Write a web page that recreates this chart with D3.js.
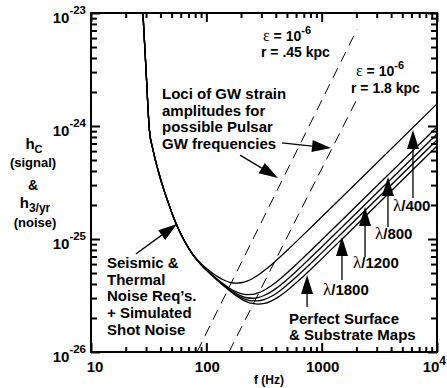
<!DOCTYPE html>
<html>
<head>
<meta charset="utf-8">
<script src="https://cdn.jsdelivr.net/npm/d3@7"></script>
<style>
  body { margin: 0; background: #fff; }
  svg { display: block; font-family: "Liberation Sans", Arial, sans-serif; font-weight: bold; }
</style>
</head>
<body>
<div id="chart"></div>
<script>
// shared frequency grid (Hz) for the noise curves
var freqs = [28.2, 30.0, 32.1, 34.5, 38.1, 42.1, 46.6, 51.4, 56.8, 65.3,
             76.6, 91.6, 112, 125, 140, 160, 180, 200, 225, 250,
             280, 320, 360, 400, 500, 700, 1000, 2000, 10000];
// h_3/yr noise curves, in units of 1e-26
var noise400 = [1000, 313, 92, 61.4, 40.8, 28.8, 21.2, 16.0, 12.5, 9.45,
                7.30, 5.95, 5.03, 4.65, 4.36, 4.14, 4.07, 4.10, 4.23, 4.45,
                4.77, 5.28, 5.83, 6.41, 7.91, 10.99, 15.68, 31.34, 156.7];
var noise800 = [1000, 313, 92, 61.4, 40.8, 28.8, 21.2, 16.0, 12.5, 9.4,
                7.24, 5.84, 4.84, 4.39, 4.01, 3.65, 3.42, 3.28, 3.22, 3.23,
                3.33, 3.54, 3.82, 4.13, 5.01, 6.89, 9.80, 19.58, 97.9];
var noise1200 = [1000, 313, 92, 61.4, 40.8, 28.8, 21.2, 16.0, 12.5, 9.4,
                 7.23, 5.82, 4.80, 4.35, 3.95, 3.57, 3.31, 3.14, 3.02, 2.99,
                 3.03, 3.18, 3.39, 3.64, 4.37, 5.99, 8.51, 16.98, 84.9];
var noise1800 = [1000, 313, 92, 61.4, 40.8, 28.8, 21.2, 16.0, 12.5, 9.4,
                 7.22, 5.81, 4.78, 4.32, 3.91, 3.51, 3.23, 3.04, 2.89, 2.83,
                 2.83, 2.92, 3.08, 3.28, 3.91, 5.32, 7.54, 15.04, 75.2];
var noisePerfect = [1000, 313, 92, 61.4, 40.8, 28.8, 21.2, 16.0, 12.5, 9.4,
                    7.22, 5.80, 4.77, 4.30, 3.88, 3.46, 3.17, 2.95, 2.78, 2.69,
                    2.65, 2.69, 2.81, 2.97, 3.49, 4.71, 6.67, 13.3, 66.5];
var noiseUnit = 1e-26;

// pulsar GW strain loci (eps = 1e-6), end points
var pulsarNearF = [83, 2030];
var pulsarNearH = [1e-26, 7.2e-24];
var pulsarFarF = [157, 2070];
var pulsarFarH = [1e-26, 1.81e-24];

// axis ticks
var xMajor = [10, 100, 1000, 10000];
var xTickLabels = [["10", ""], ["100", ""], ["1000", ""], ["10", "4"]];
var yMajor = [1e-26, 1e-25, 1e-24, 1e-23];
var yTickLabels = [["10", "-26"], ["10", "-25"], ["10", "-24"], ["10", "-23"]];

// annotation arrows [freq, h] tail -> tip
var arrows = [
  { tail: [6190, 2.31e-25], tip: [6190, 9.23e-25] },
  { tail: [3758, 1.28e-25], tip: [3758, 3.54e-25] },
  { tail: [2377, 6.93e-26], tip: [2377, 1.92e-25] },
  { tail: [1500, 4.34e-26], tip: [1500, 1.04e-25] },
  { tail: [747, 2.50e-26], tip: [747, 4.80e-26] },
  { tail: [453, 7.08e-25], tip: [1205, 6.38e-25] },
  { tail: [196, 5.53e-25], tip: [418, 3.47e-25] },
  { tail: [24.5, 7.36e-26], tip: [55.7, 1.36e-25] }
];

var width = 447, height = 388;
var m = {left: 91, right: 437, top: 13, bottom: 352};

var svg = d3.select("#chart").append("svg")
    .attr("width", width)
    .attr("height", height);

var x = d3.scaleLog().domain([10, 1e4]).range([m.left, m.right]);
var y = d3.scaleLog().domain([1e-26, 1e-23]).range([m.bottom, m.top]);

svg.append("clipPath").attr("id", "plot")
  .append("rect")
    .attr("x", m.left).attr("y", m.top)
    .attr("width", m.right - m.left).attr("height", m.bottom - m.top);

var line = d3.line()
    .x(function(d) { return x(d[0]) })
    .y(function(d) { return y(d[1]) })
    .curve(d3.curveMonotoneX);

var curves = [noise400, noise800, noise1200, noise1800, noisePerfect];
svg.append("g").attr("clip-path", "url(#plot)")
  .selectAll("path")
  .data(curves)
  .enter()
  .append("path")
    .attr("d", function(c) { return line(c.map(function(v, i) { return [freqs[i], v * noiseUnit] })) })
    .attr("fill", "none")
    .attr("stroke", "#000")
    .attr("stroke-width", 1.3);

var pulsars = [[pulsarNearF, pulsarNearH], [pulsarFarF, pulsarFarH]];
svg.append("g").attr("clip-path", "url(#plot)")
  .selectAll("path")
  .data(pulsars)
  .enter()
  .append("path")
    .attr("d", function(p) { return d3.line()(p[0].map(function(f, i) { return [x(f), y(p[1][i])] })) })
    .attr("fill", "none")
    .attr("stroke", "#000")
    .attr("stroke-width", 1)
    .attr("stroke-dasharray", "11,7");

// ticks, all pointing inward
var xMinor = [], yMinor = [];
xMajor.slice(0, -1).forEach(function(d) { d3.range(2, 10).forEach(function(k) { xMinor.push(d * k) }) });
yMajor.slice(0, -1).forEach(function(d) { d3.range(2, 10).forEach(function(k) { yMinor.push(d * k) }) });

function ticks(gen, tr, vals, size) {
  var g = svg.append("g")
      .attr("transform", tr)
      .call(gen.tickValues(vals).tickSizeInner(-size).tickSizeOuter(0).tickFormat(""));
  g.select(".domain").remove();
  g.selectAll("line").attr("stroke", "#000").attr("stroke-width", 2);
}
ticks(d3.axisBottom(x), "translate(0," + m.bottom + ")", xMinor, 5);
ticks(d3.axisBottom(x), "translate(0," + m.bottom + ")", xMajor, 9);
ticks(d3.axisTop(x), "translate(0," + m.top + ")", xMinor, 5);
ticks(d3.axisTop(x), "translate(0," + m.top + ")", xMajor, 9);
ticks(d3.axisLeft(y), "translate(" + m.left + ",0)", yMinor, 6);
ticks(d3.axisLeft(y), "translate(" + m.left + ",0)", yMajor, 9);
ticks(d3.axisRight(y), "translate(" + m.right + ",0)", yMinor, 6);
ticks(d3.axisRight(y), "translate(" + m.right + ",0)", yMajor, 9);

svg.append("rect")
    .attr("x", m.left).attr("y", m.top)
    .attr("width", m.right - m.left).attr("height", m.bottom - m.top)
    .attr("fill", "none")
    .attr("stroke", "#000")
    .attr("stroke-width", 2);

// tick labels
xMajor.forEach(function(d, i) {
  var last = i == xMajor.length - 1;
  var t = svg.append("text")
      .attr("x", last ? 446 : x(d) + (i == 0 ? 4 : 1))
      .attr("y", 372)
      .attr("text-anchor", last ? "end" : "middle")
      .attr("font-size", 15);
  t.append("tspan").text(xTickLabels[i][0]);
  if (xTickLabels[i][1]) t.append("tspan").attr("dy", -7).attr("font-size", 12).text(xTickLabels[i][1]);
});
yMajor.forEach(function(d, i) {
  var t = svg.append("text")
      .attr("x", 86)
      .attr("y", y(d) + 10)
      .attr("text-anchor", "end")
      .attr("font-size", 15);
  t.append("tspan").text(yTickLabels[i][0]);
  t.append("tspan").attr("dy", -9).attr("font-size", 11.5).text(yTickLabels[i][1]);
});

// axis titles
svg.append("text").attr("x", 269).attr("y", 384).attr("text-anchor", "middle")
    .attr("font-size", 12).text("f (Hz)");

var yTitle = svg.append("g").attr("text-anchor", "middle");
var hc = yTitle.append("text").attr("x", 34).attr("y", 149).attr("font-size", 15);
hc.append("tspan").text("h");
hc.append("tspan").attr("dy", 4).attr("font-size", 11).text("C");
yTitle.append("text").attr("x", 33).attr("y", 167).attr("font-size", 13).text("(signal)");
yTitle.append("text").attr("x", 33).attr("y", 190).attr("font-size", 14).text("&");
var h3 = yTitle.append("text").attr("x", 35).attr("y", 208).attr("font-size", 15);
h3.append("tspan").text("h");
h3.append("tspan").attr("dy", 4).attr("font-size", 12).text("3/yr");
yTitle.append("text").attr("x", 35).attr("y", 227).attr("font-size", 13).text("(noise)");

// annotations
function epsLabel(x0, y0, rx, ry, r) {
  var t = svg.append("text").attr("x", x0).attr("y", y0).attr("font-size", 14);
  t.append("tspan").attr("font-family", "Liberation Serif, serif").attr("font-weight", "normal")
      .attr("font-size", 16).text("\u03b5");
  t.append("tspan").text(" = 10");
  t.append("tspan").attr("dy", -7).attr("font-size", 11).text("-6");
  svg.append("text").attr("x", rx).attr("y", ry).attr("font-size", 14).text("r = " + r + " kpc");
}
epsLabel(263, 41, 261, 57, ".45");
epsLabel(356, 76, 351, 93, "1.8");

function block(x0, y0, lines, dy) {
  var t = svg.append("text").attr("font-size", 15);
  lines.forEach(function(s, i) {
    t.append("tspan").attr("x", x0).attr("y", y0 + i * dy).text(s);
  });
}
block(162, 99, ["Loci of GW strain", "amplitudes for", "possible Pulsar", "GW frequencies"], 16.6);
block(107, 268, ["Seismic &", "Thermal", "Noise Req\u2019s.", "+ Simulated", "Shot Noise"], 16.7);
block(289, 324, ["Perfect Surface", "& Substrate Maps"], 16);

var lambdaLabels = [["400", 393, 211], ["800", 375, 239], ["1200", 353, 268], ["1800", 323, 295]];
lambdaLabels.forEach(function(l) {
  var t = svg.append("text").attr("x", l[1]).attr("y", l[2]).attr("font-size", 15);
  t.append("tspan").attr("font-family", "Liberation Serif, serif").attr("font-weight", "normal")
      .attr("font-size", 17).text("\u03bb");
  t.append("tspan").text("/" + l[0]);
});

arrows.forEach(function(a) {
  var x0 = x(a.tail[0]), y0 = y(a.tail[1]), x1 = x(a.tip[0]), y1 = y(a.tip[1]);
  var dx = x1 - x0, dy = y1 - y0, len = Math.sqrt(dx * dx + dy * dy);
  var ux = dx / len, uy = dy / len, hl = 19, hw = 6;
  var bx = x1 - ux * hl, by = y1 - uy * hl;
  svg.append("line")
      .attr("x1", x0).attr("y1", y0).attr("x2", bx).attr("y2", by)
      .attr("stroke", "#000").attr("stroke-width", 1.3);
  svg.append("path")
      .attr("d", "M" + x1 + "," + y1 + "L" + (bx - uy * hw) + "," + (by + ux * hw) +
                 "L" + (bx + uy * hw) + "," + (by - ux * hw) + "Z")
      .attr("fill", "#000");
});
</script>
</body>
</html>
